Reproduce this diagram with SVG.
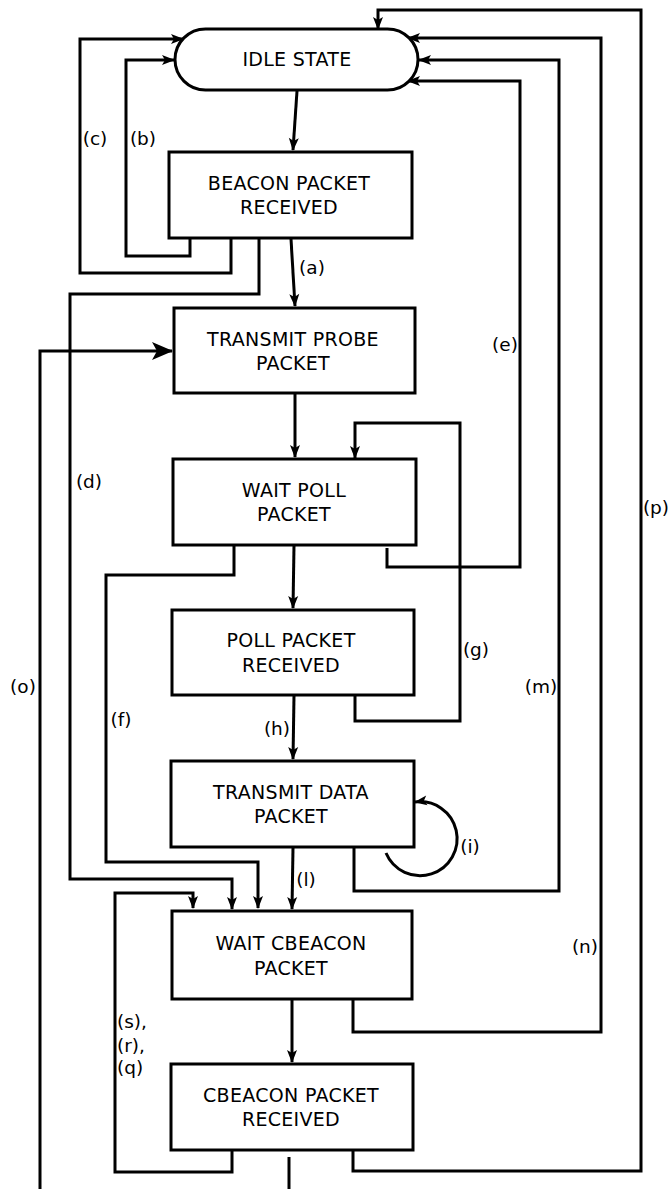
<svg xmlns="http://www.w3.org/2000/svg" width="672" height="1189" viewBox="0 0 672 1189">
<style>
.node{fill:#fff;stroke:#000;stroke-width:3}
.t{font-family:"DejaVu Sans","Liberation Sans",sans-serif;font-size:19px;letter-spacing:0.3px;fill:#000;text-anchor:middle}
.lb{font-family:"DejaVu Sans","Liberation Sans",sans-serif;font-size:18.5px;fill:#000;text-anchor:middle}
.c{fill:none;stroke:#000;stroke-width:3}
.a{marker-end:url(#ah)}
</style>
<defs>
<marker id="ah" markerUnits="userSpaceOnUse" markerWidth="14" markerHeight="12" refX="12" refY="5" orient="auto" overflow="visible">
<path d="M0,0 L13,5 L0,10 L3,5 z" fill="#000"/>
</marker>
<marker id="big" markerUnits="userSpaceOnUse" markerWidth="22" markerHeight="20" refX="20" refY="9" orient="auto" overflow="visible">
<path d="M0,0 L21,9 L0,18 L5,9 z" fill="#000"/>
</marker>
</defs>
<rect width="672" height="1189" fill="#fff"/>
<g id="connectors">
<path class="c a" d="M297,91 L293,150"/>
<path class="c a" d="M291,239 L295,306"/>
<path class="c a" d="M295,394 L295,457"/>
<path class="c a" d="M294,546 L293,608"/>
<path class="c a" d="M294,696 L293,759"/>
<path class="c a" d="M293,848 L292,909"/>
<path class="c a" d="M292,1000 L292,1062"/>
<path class="c a" d="M190,238 L190,256 L126,256 L126,60 L174,60"/>
<path class="c a" d="M231,238 L231,273 L80,273 L80,39 L183,39"/>
<path class="c a" d="M259,239 L259,294 L70,294 L70,879 L232,879 L232,909"/>
<path class="c" style="marker-end:url(#big)" d="M40,1189 L40,351 L172,351"/>
<path class="c a" d="M387,548 L387,567 L520,567 L520,81 L408,81"/>
<path class="c a" d="M234,545 L234,575 L106,575 L106,862 L258,862 L258,908"/>
<path class="c a" d="M355,695 L355,721 L460,721 L460,423 L355,423 L355,458"/>
<path class="c a" d="M386,853 A37,37 0 1 0 415,802"/>
<path class="c a" d="M354,847 L354,891 L559,891 L559,60 L419,60"/>
<path class="c a" d="M353,999 L353,1032 L601,1032 L601,38 L408,38"/>
<path class="c a" d="M353,1150 L353,1171 L641,1171 L641,10 L378,10 L378,29"/>
<path class="c a" d="M232,1150 L232,1172 L115,1172 L115,893 L193,893 L193,908"/>
<path class="c" d="M289,1157 L289,1189"/>
</g>
<g id="labels">
<text class="lb" x="95" y="145">(c)</text>
<text class="lb" x="143" y="145">(b)</text>
<text class="lb" x="312" y="274">(a)</text>
<text class="lb" x="505" y="351">(e)</text>
<text class="lb" x="89" y="488">(d)</text>
<text class="lb" x="656" y="514">(p)</text>
<text class="lb" x="476" y="656">(g)</text>
<text class="lb" x="23" y="693">(o)</text>
<text class="lb" x="541" y="693">(m)</text>
<text class="lb" x="121" y="726">(f)</text>
<text class="lb" x="277" y="735">(h)</text>
<text class="lb" x="470" y="853">(i)</text>
<text class="lb" x="306" y="886">(l)</text>
<text class="lb" x="585" y="953">(n)</text>
<text class="lb" x="117" y="1028" style="text-anchor:start">(s),</text>
<text class="lb" x="117" y="1052" style="text-anchor:start">(r),</text>
<text class="lb" x="117" y="1074" style="text-anchor:start">(q)</text>
</g>
<g id="idle">
<rect class="node" x="175" y="29" width="243" height="61" rx="30.5" ry="30.5"/>
<text class="t" x="297" y="66">IDLE STATE</text>
</g>
<g id="beacon">
<rect class="node" x="169" y="152" width="243" height="86"/>
<text class="t" x="289" y="190">BEACON PACKET</text>
<text class="t" x="289" y="214">RECEIVED</text>
</g>
<g id="probe">
<rect class="node" x="174" y="308" width="241" height="85"/>
<text class="t" x="293" y="346">TRANSMIT PROBE</text>
<text class="t" x="293" y="370">PACKET</text>
</g>
<g id="waitpoll">
<rect class="node" x="173" y="459" width="243" height="86"/>
<text class="t" x="294" y="497">WAIT POLL</text>
<text class="t" x="294" y="521">PACKET</text>
</g>
<g id="pollrecv">
<rect class="node" x="172" y="610" width="242" height="85"/>
<text class="t" x="291" y="647">POLL PACKET</text>
<text class="t" x="291" y="672">RECEIVED</text>
</g>
<g id="txdata">
<rect class="node" x="171" y="761" width="243" height="86"/>
<text class="t" x="291" y="799">TRANSMIT DATA</text>
<text class="t" x="291" y="823">PACKET</text>
</g>
<g id="waitcb">
<rect class="node" x="172" y="911" width="240" height="88"/>
<text class="t" x="291" y="950">WAIT CBEACON</text>
<text class="t" x="291" y="975">PACKET</text>
</g>
<g id="cbrecv">
<rect class="node" x="171" y="1064" width="242" height="86"/>
<text class="t" x="291" y="1102">CBEACON PACKET</text>
<text class="t" x="291" y="1126">RECEIVED</text>
</g>
</svg>
